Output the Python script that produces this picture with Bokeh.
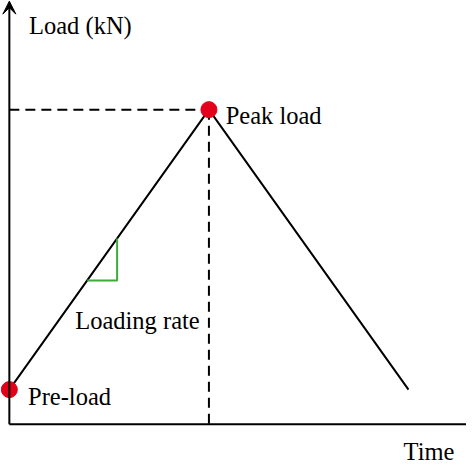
import numpy as np
from bokeh.plotting import figure
from bokeh.models import Range1d, Label, Arrow, VeeHead
from bokeh.embed import file_html
from bokeh.resources import INLINE

# Data (arbitrary units read from the schematic)
time = [0, 10, 20]          # pre-load, peak, end of unloading
load = [11, 100, 11]        # kN (schematic)
key_time = [0, 10]          # pre-load and peak load points
key_load = [11, 100]
rate_time = [3.9, 5.4]      # loading-rate triangle span
labels = ["Load (kN)", "Time", "Peak load", "Pre-load", "Loading rate"]

W, H = 466, 466
s = W / 474.0                 # reference -> figure pixel scale
x0_px = 9 * s                 # y-axis position from left
y0_top = 431 * s              # x-axis position from top
px_t = 20.3 * s               # pixels per time unit
px_l = 3.2 * s                # pixels per load unit

x_start = -x0_px / px_t
x_end = (W - x0_px) / px_t
y_start = -(H - y0_top) / px_l
y_end = y0_top / px_l

p = figure(width=W, height=H, output_backend="svg", toolbar_location=None,
           x_axis_location=None, y_axis_location=None, min_border=0,
           x_range=Range1d(x_start, x_end), y_range=Range1d(y_start, y_end))
p.grid.visible = False
p.outline_line_color = None
p.background_fill_color = "white"
p.border_fill_color = "white"

def ref(xr, yr):
    """reference pixel -> data coordinates (for annotation placement)"""
    return (xr * s - x0_px) / px_t, (y0_top - yr * s) / px_l

# axes
p.line([0, x_end], [0, 0], line_color="black", line_width=2)
p.add_layout(Arrow(x_start=0, y_start=0, x_end=0, y_end=y_end - 0.2,
                   line_color="black", line_width=2,
                   end=VeeHead(size=13, fill_color="black", line_color="black")))

# dashed guides to the peak
p.line([0, key_time[1]], [key_load[1], key_load[1]], line_color="black",
       line_width=2, line_dash="10 6")
p.line([key_time[1], key_time[1]], [key_load[1], 0], line_color="black",
       line_width=2, line_dash="10 6")

# load history
p.line(time, load, line_color="black", line_width=2)

# loading-rate triangle
rl = np.interp(rate_time, time, load)
p.line([rate_time[0], rate_time[1], rate_time[1]], [rl[0], rl[0], rl[1]],
       line_color="#3daa3a", line_width=2)

# key points
p.scatter(key_time, key_load, size=16, fill_color="#e3001b", line_color="#e3001b")

font = "Liberation Serif"
def lab(pos, t):
    x, y = ref(*pos)
    p.add_layout(Label(x=x, y=y, text=t, text_font=font, text_font_size="24.5px",
                       text_color="black", text_baseline="alphabetic"))

lab((29, 25), labels[0])
lab((410, 459), labels[1])
lab((229, 117), labels[2])
lab((28, 403), labels[3])
lab((76, 326), labels[4])

open("out.html", "w").write(file_html(p, INLINE))
